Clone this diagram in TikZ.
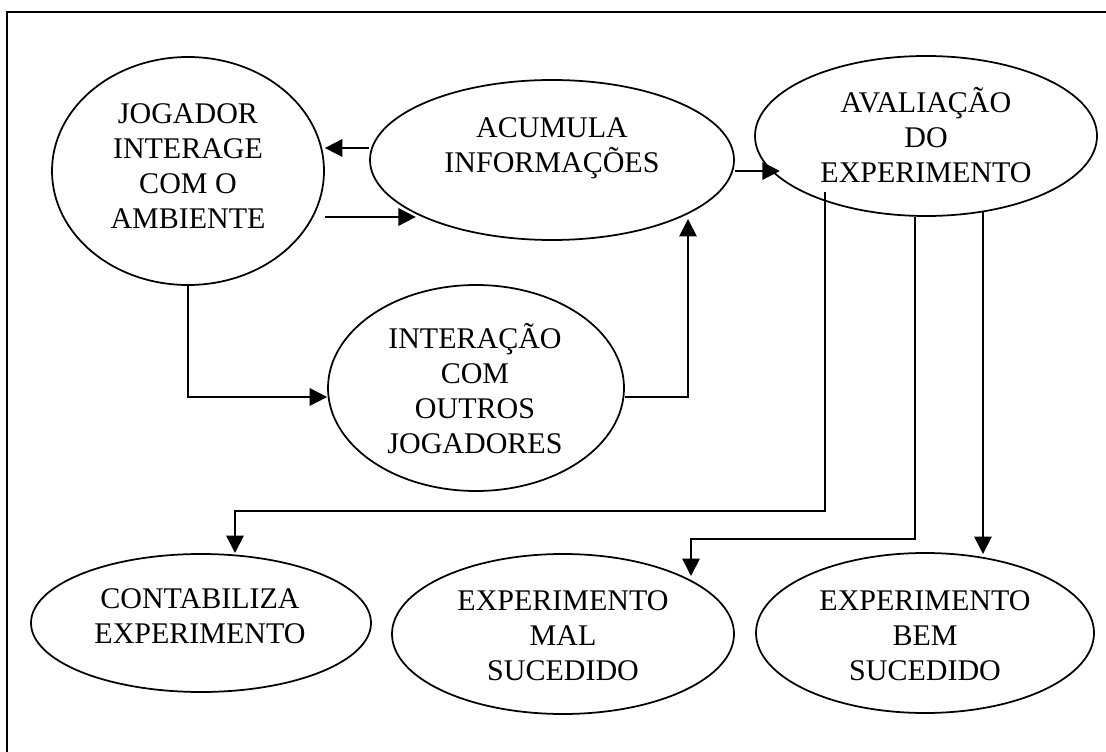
\documentclass[tikz,border=0pt]{standalone}
\usepackage{fontspec}
\setmainfont{Liberation Serif}
\usetikzlibrary{arrows.meta,shapes.geometric}
\tikzset{
    oval-box/.style = {draw, ellipse, line width=0.7pt, inner sep=0pt},
    oval-text/.style = {align=center, anchor=base, inner sep=0pt, font=\fontsize{12}{14}\selectfont},
    flow-arrow/.style = {line width=0.7pt, -{Triangle[length=7pt, width=7pt]}},
}

\begin{document}
\begin{tikzpicture}[x=0.4pt, y=-0.4pt]
\useasboundingbox (0,0) rectangle (1106,752);
\draw[line width=0.8pt] (1106,12) -- (7,12) -- (7,752);

\node[oval-box, minimum width=108.8pt, minimum height=91.2pt] (jogador) at (188,171) {};
\node[oval-box, minimum width=145.6pt, minimum height=64pt] (acumula) at (552,160) {};
\node[oval-box, minimum width=136.8pt, minimum height=64pt] (avaliacao) at (926,136) {};
\node[oval-box, minimum width=118.4pt, minimum height=82.4pt] (interacao) at (476,388) {};
\node[oval-box, minimum width=136pt, minimum height=55.2pt] (contabiliza) at (201,623) {};
\node[oval-box, minimum width=136.8pt, minimum height=64pt] (mal) at (563,634) {};
\node[oval-box, minimum width=135.2pt, minimum height=64pt] (bem) at (925,633) {};

\node[oval-text] (jogador-text) at (188,229) {JOGADOR\\INTERAGE\\COM O\\AMBIENTE};
\node[oval-text] (acumula-text) at (552,173) {ACUMULA\\INFORMAÇÕES};
\node[oval-text] (avaliacao-text) at (926,183) {AVALIAÇÃO\\DO\\EXPERIMENTO};
\node[oval-text] (interacao-text) at (475,453) {INTERAÇÃO\\COM\\OUTROS\\JOGADORES};
\node[oval-text] (contabiliza-text) at (200,643) {CONTABILIZA\\EXPERIMENTO};
\node[oval-text] (mal-text) at (563,680) {EXPERIMENTO\\MAL\\SUCEDIDO};
\node[oval-text] (bem-text) at (925,680) {EXPERIMENTO\\BEM\\SUCEDIDO};

\coordinate (acumula-in) at (688,219);
\coordinate (contabiliza-in) at (235,553);
\coordinate (mal-in) at (691,576);
\coordinate (bem-in) at (983,554);

\draw[flow-arrow] ([yshift=4.8pt]acumula.west) coordinate (back) -- (jogador.east |- back);
\draw[flow-arrow] ([yshift=-18.4pt]jogador.east) -- ++(91,0);
\draw[flow-arrow] ([yshift=-4.4pt]acumula.east) -- ++(45,0);
\draw[flow-arrow] (jogador.south) |- ([yshift=-3.6pt]interacao.west);
\draw[flow-arrow] ([yshift=-3.6pt]interacao.east) -| (acumula-in);
\draw[flow-arrow] ([xshift=-40.4pt, yshift=10pt]avaliacao.south) -- ++(0,319) -| (contabiliza-in);
\draw[flow-arrow] ([xshift=-4.4pt]avaliacao.south) -- ++(0,322) -| (mal-in);
\draw[flow-arrow] ([xshift=22.8pt, yshift=2pt]avaliacao.south) -- (bem-in);
\end{tikzpicture}
\end{document}
